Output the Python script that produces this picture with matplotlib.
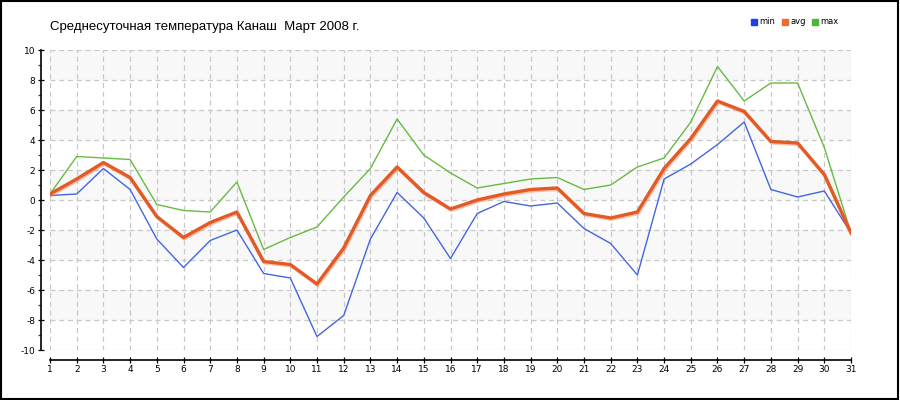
import matplotlib
matplotlib.use("Agg")
import matplotlib.pyplot as plt
import matplotlib.patheffects as pe
from matplotlib.patches import Rectangle, Patch

plt.rcParams["axes.unicode_minus"] = False

days = list(range(1, 32))
t_min = [0.3, 0.4, 2.1, 0.7, -2.6, -4.5, -2.7, -2.0, -4.9, -5.2, -9.1, -7.7, -2.6, 0.5, -1.2, -3.9,
         -0.9, -0.1, -0.4, -0.2, -1.9, -2.9, -5.0, 1.4, 2.4, 3.7, 5.2, 0.7, 0.2, 0.6, -2.2]
t_avg = [0.4, 1.4, 2.5, 1.5, -1.1, -2.5, -1.5, -0.8, -4.1, -4.3, -5.6, -3.2, 0.3, 2.2, 0.5, -0.6,
         0.0, 0.4, 0.7, 0.8, -0.9, -1.2, -0.8, 2.1, 4.1, 6.6, 5.9, 3.9, 3.8, 1.7, -2.2]
t_max = [0.4, 2.9, 2.8, 2.7, -0.3, -0.7, -0.8, 1.2, -3.3, -2.5, -1.8, 0.2, 2.1, 5.4, 3.0, 1.8,
         0.8, 1.1, 1.4, 1.5, 0.7, 1.0, 2.2, 2.8, 5.2, 8.9, 6.6, 7.8, 7.8, 3.5, -2.2]

fig = plt.figure(figsize=(9, 4), dpi=100)
ax = fig.add_axes([50 / 900, 50 / 400, 801 / 900, 300 / 400])

# светлые полосы через одну
for lo in range(-8, 10, 4):
    ax.axhspan(lo, lo + 2, color="#f8f8f8", zorder=0, lw=0)

ax.plot(days, t_min, color="#4466e0", lw=1, zorder=3)
ax.plot(days, t_max, color="#66bb44", lw=1, zorder=3)
ax.plot(days, t_avg, color="#e35a25", lw=2.4, zorder=4,
        path_effects=[pe.SimpleLineShadow(offset=(0.6, -1), shadow_color="#f08860", alpha=0.5), pe.Normal()])

ax.set_xlim(1, 31)
ax.set_ylim(-10, 10)
ax.set_xticks(days)
ax.set_yticks(range(-10, 11, 2))
ax.set_yticks(range(-9, 10, 2), minor=True)
ax.grid(True, which="major", color="#c8c8c8", ls=(0, (4, 3)), lw=0.9)

for s in ["top", "right"]:
    ax.spines[s].set_visible(False)
ax.spines["left"].set_position(("outward", 6.5))
ax.spines["bottom"].set_position(("outward", 7.2))
ax.spines["left"].set_linewidth(1.2)
ax.spines["bottom"].set_linewidth(1.2)

ax.tick_params(axis="both", which="major", labelsize=6.5, colors="black", direction="inout",
               length=5, width=0.9, pad=1.5)
ax.tick_params(axis="y", which="minor", color="#cc0000", direction="out", length=2.5, width=0.9)
ax.tick_params(axis="x", pad=1)

fig.text(50 / 900, 1 - 27 / 400, "Среднесуточная температура Канаш  Март 2008 г.",
         fontsize=9.5, family="Liberation Sans", va="center", ha="left")

handles = [Patch(color="#1f3fe6", label="min"), Patch(color="#f06a30", label="avg"),
           Patch(color="#4cb830", label="max")]
fig.legend(handles=handles, loc="center", bbox_to_anchor=(795 / 900, 1 - 22 / 400), ncol=3,
           frameon=False, fontsize=6, handlelength=0.7, handleheight=0.7, handletextpad=0.3,
           columnspacing=0.8)

fig.patches.append(Rectangle((0.001, 0.002), 0.997, 0.995, transform=fig.transFigure,
                             fill=False, edgecolor="black", lw=1.5))

fig.savefig("out.png", dpi=100)
